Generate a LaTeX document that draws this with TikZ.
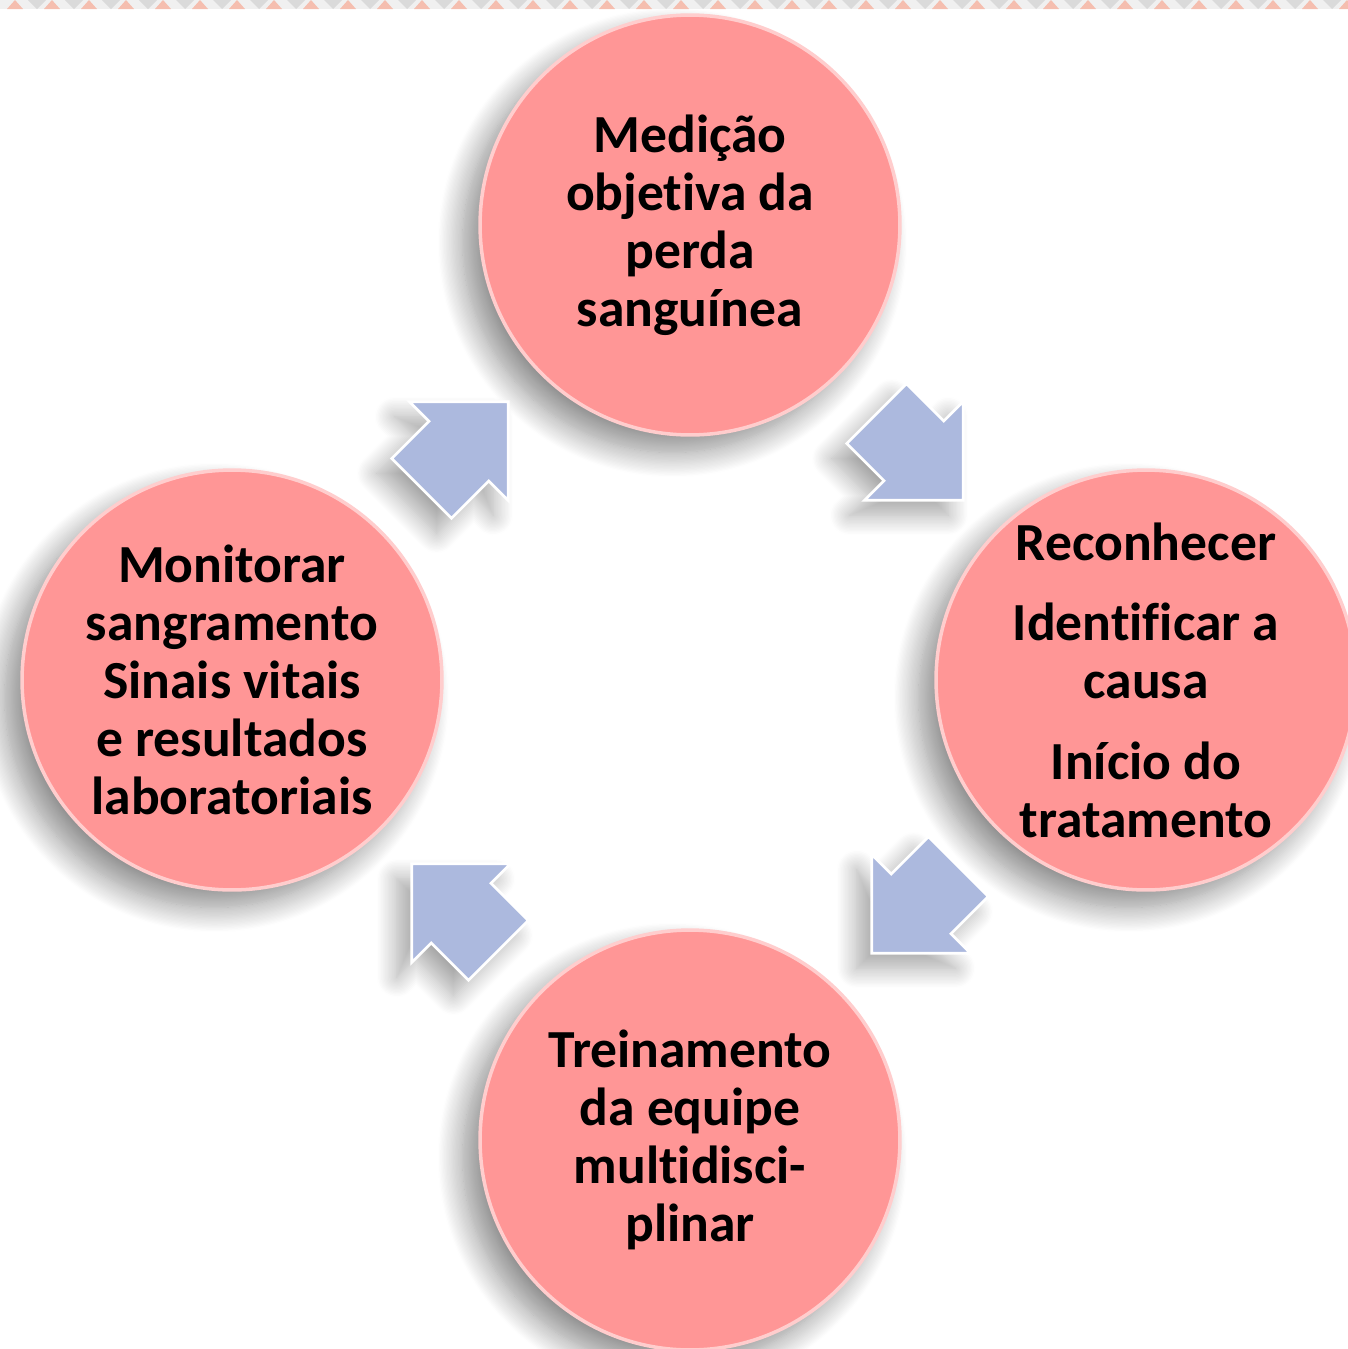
\documentclass[tikz,border=0pt]{standalone}
\usepackage{fontspec}
\setmainfont{Carlito}[Ligatures=NoCommon]
\usetikzlibrary{shapes.arrows, positioning, shadows.blur}

\begin{document}
\begin{tikzpicture}[x=0.02cm, y=-0.02cm,
    etapa/.style={circle, minimum size=8.4cm, inner sep=0pt, fill=rosa, draw=rosaclaro, line width=2pt,
        align=center, font=\bfseries\fontsize{30.5}{33}\selectfont,
        blur shadow={shadow xshift=-0.35cm, shadow yshift=-0.35cm, shadow blur radius=0.5cm,
            shadow blur steps=20, shadow opacity=45}},
    seta/.style={single arrow, single arrow tip angle=90, single arrow head extend=0.55cm,
        minimum height=2.45cm, inner xsep=0pt, inner ysep=0.82cm, fill=azul, draw=white, line width=1.5pt,
        blur shadow={shadow xshift=-0.3cm, shadow yshift=-0.3cm, shadow blur radius=0.4cm,
            shadow blur steps=15, shadow opacity=35}}]
            % Cores
            \definecolor{rosa}{RGB}{255,150,150}
            \definecolor{rosaclaro}{RGB}{255,205,205}
            \definecolor{azul}{RGB}{172,185,222}
            \definecolor{faixa}{RGB}{240,240,240}
            \definecolor{triarosa}{RGB}{245,190,175}
            \definecolor{triacinza}{RGB}{218,218,218}

            \useasboundingbox (0,0) rectangle (1348,1349);

            % Etapas
            \node[etapa] (medicao) at (690,225) {Medição\\objetiva da\\perda\\sanguínea};
            \node[etapa] (reconhecer) at (1146,680) {Reconhecer\\[0.45cm]Identificar a\\causa\\[0.45cm]Início do\\tratamento};
            \node[etapa] (treinamento) at (690,1140) {Treinamento\\da equipe\\multidisci-\\plinar};
            \node[etapa] (monitorar) at (232,680) {Monitorar\\sangramento\\Sinais vitais\\e resultados\\laboratoriais};

            % Setas
            \node[seta, rotate=-45] (seta1) at (905,442) {};
            \node[seta, rotate=-135] (seta2) at (930,895) {};
            \node[seta, rotate=135] (seta3) at (470,922) {};
            \node[seta, rotate=45] (seta4) at (450,460) {};

            % Faixa superior
            \fill[faixa] (0,0) rectangle (1348,9);
            \foreach \i in {0,...,36} {
                \fill[triacinza] (\i*37+28,0) -- (\i*37+46,0) -- (\i*37+37,9) -- cycle;
                \fill[triarosa] (\i*37+7,9) -- (\i*37+23,9) -- (\i*37+15,0) -- cycle;
            }

        \end{tikzpicture}
\end{document}
